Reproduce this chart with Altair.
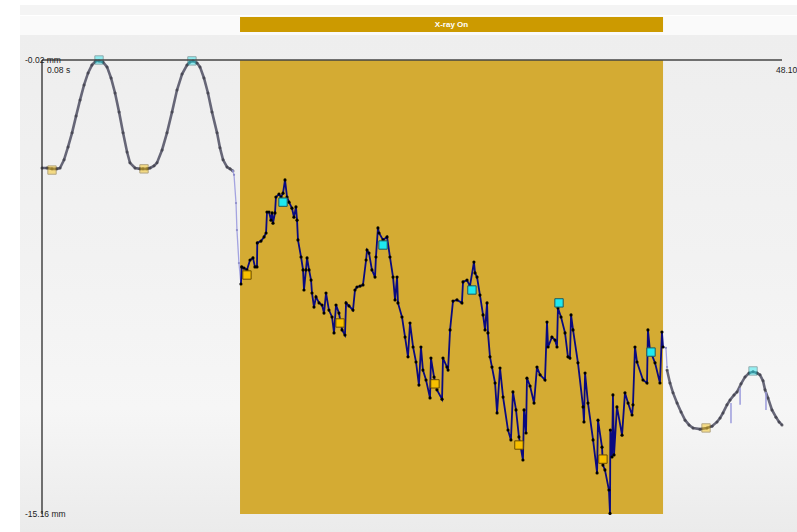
import altair as alt
import pandas as pd

# Axis extents (seconds, millimetres)
T_START, T_END = 0.08, 48.10
MM_TOP, MM_BOTTOM = -0.02, -15.16

# Beam-on window
XRAY_ON, XRAY_OFF = 12.93, 40.38
XRAY_LABEL = "X-ray On"

# Breathing trace before the beam is switched on
pre_t = [0.08, 0.40, 0.73, 1.05, 1.25, 1.51, 1.77, 2.03, 2.29, 2.55, 2.81, 3.07, 3.32, 3.58,
         3.78, 4.04, 4.30, 4.56, 4.82, 5.08, 5.34, 5.60, 5.79, 6.12, 6.44, 6.63, 6.89, 7.09,
         7.35, 7.54, 7.87, 8.19, 8.52, 8.84, 9.17, 9.49, 9.68, 9.88, 10.14, 10.33, 10.59,
         10.85, 11.11, 11.44, 11.63, 11.83, 12.09, 12.28, 12.47]
pre_mm = [-3.62, -3.62, -3.65, -3.65, -3.62, -3.35, -2.92, -2.45, -1.89, -1.35, -0.85, -0.45,
          -0.19, -0.05, -0.05, -0.09, -0.25, -0.62, -1.12, -1.75, -2.45, -3.09, -3.45, -3.62,
          -3.65, -3.65, -3.65, -3.62, -3.55, -3.45, -3.02, -2.45, -1.75, -1.02, -0.49, -0.19,
          -0.09, -0.05, -0.12, -0.25, -0.62, -1.12, -1.75, -2.45, -2.95, -3.35, -3.59, -3.65,
          -3.72]

# Transition into the beam-on period
gap_in_t = [12.47, 12.54, 12.67, 12.73, 12.86, 12.99]
gap_in_mm = [-3.72, -3.85, -4.79, -5.69, -6.79, -7.49]

# Trace during the beam-on period
xray_t = [12.99, 13.04, 13.19, 13.38, 13.58, 13.77, 13.90, 14.03, 14.05, 14.29, 14.49, 14.62,
          14.68, 14.81, 14.94, 15.01, 15.07, 15.20, 15.26, 15.46, 15.59, 15.72, 15.85, 15.98,
          16.11, 16.30, 16.43, 16.56, 16.63, 16.69, 16.89, 17.02, 17.08, 17.21, 17.28, 17.41,
          17.54, 17.60, 17.73, 17.86, 18.06, 18.25, 18.38, 18.51, 18.70, 18.90, 19.03, 19.16,
          19.35, 19.55, 19.74, 19.81, 20.00, 20.26, 20.39, 20.52, 20.72, 20.91, 21.11, 21.17,
          21.30, 21.49, 21.69, 21.75, 21.88, 21.95, 22.21, 22.47, 22.66, 22.86, 22.99, 23.12,
          23.18, 23.44, 23.64, 23.83, 23.96, 24.16, 24.35, 24.54, 24.67, 24.80, 25.00, 25.26,
          25.32, 25.52, 25.71, 26.04, 26.10, 26.36, 26.43, 26.56, 26.75, 27.01, 27.33, 27.40,
          27.66, 27.85, 28.11, 28.18, 28.31, 28.50, 28.70, 28.83, 28.96, 29.02, 29.15, 29.28,
          29.48, 29.61, 29.80, 30.00, 30.32, 30.51, 30.64, 30.84, 31.03, 31.29, 31.36, 31.49,
          31.55, 31.75, 32.01, 32.20, 32.40, 32.72, 32.85, 32.92, 33.17, 33.37, 33.50, 33.56,
          33.76, 34.02, 34.21, 34.34, 34.41, 34.54, 34.86, 35.19, 35.25, 35.32, 35.51, 35.84,
          36.10, 36.16, 36.42, 36.48, 36.61, 36.87, 36.94, 36.96, 37.07, 37.13, 37.20, 37.39,
          37.72, 37.91, 38.11, 38.37, 38.43, 38.56, 38.69, 39.08, 39.34, 39.40, 39.53, 39.86,
          40.18, 40.31, 40.38]
xray_mm = [-7.49, -6.92, -6.96, -7.02, -6.69, -6.62, -6.92, -6.92, -6.12, -6.06, -5.92, -5.79,
           -5.09, -5.09, -5.36, -5.12, -5.46, -5.12, -4.59, -4.49, -4.59, -4.46, -4.02, -4.59,
           -4.76, -4.96, -5.26, -4.92, -5.36, -6.02, -6.59, -7.02, -7.69, -7.02, -6.62, -7.02,
           -7.36, -7.79, -8.26, -7.92, -8.12, -8.19, -8.46, -7.79, -8.36, -8.59, -9.12, -8.19,
           -8.46, -9.02, -9.19, -8.12, -8.22, -8.36, -7.69, -7.59, -7.56, -7.52, -6.69, -6.36,
           -6.46, -7.02, -7.26, -6.59, -5.62, -5.79, -6.02, -5.92, -6.59, -7.26, -8.02, -7.26,
           -8.12, -8.59, -9.26, -9.92, -8.79, -9.59, -10.09, -10.86, -9.59, -10.36, -10.69, -11.29,
           -9.96, -10.59, -11.02, -11.33, -9.96, -10.26, -10.36, -9.02, -8.06, -8.02, -8.12, -7.42,
           -7.36, -7.56, -6.76, -7.12, -7.26, -7.86, -8.52, -9.02, -8.12, -9.12, -9.92, -10.26,
           -10.79, -11.79, -10.29, -11.26, -12.36, -12.69, -11.09, -11.69, -12.59, -13.36, -11.69, -12.46,
           -10.63, -10.89, -11.46, -10.26, -10.52, -10.69, -8.76, -9.59, -9.26, -9.36, -9.59, -8.29,
           -8.59, -9.12, -9.92, -9.96, -8.52, -9.02, -10.12, -11.59, -12.09, -10.46, -11.46, -12.69,
           -13.79, -12.03, -12.93, -13.53, -13.69, -14.36, -15.14, -12.36, -13.26, -11.19, -13.19, -11.59,
           -12.53, -11.12, -11.46, -11.86, -11.52, -9.59, -10.09, -10.69, -10.79, -9.02, -9.69, -10.12,
           -10.79, -9.09, -9.59]

# Transition out of the beam-on period
gap_out_t = [40.38, 40.57, 40.64]
gap_out_mm = [-9.59, -9.62, -10.26]

# Breathing trace after the beam is switched off
post_t = [40.64, 40.83, 41.03, 41.29, 41.55, 41.81, 42.07, 42.33, 42.78, 43.23, 43.56, 43.88,
          44.08, 44.27, 44.53, 44.73, 44.99, 45.18, 45.44, 45.70, 45.96, 46.22, 46.48, 46.67,
          46.87, 47.00, 47.19, 47.45, 47.71, 47.91, 48.10]
post_mm = [-10.36, -10.79, -11.12, -11.46, -11.76, -12.03, -12.19, -12.29, -12.33, -12.29, -12.23,
           -12.09, -11.96, -11.79, -11.52, -11.36, -11.19, -11.09, -10.82, -10.59, -10.46, -10.42,
           -10.46, -10.52, -10.72, -11.02, -11.29, -11.69, -11.93, -12.09, -12.19]

# Short glitches after beam-off
spike_t = [44.79, 45.38, 47.06]
spike_from = [-11.46, -10.96, -11.09]
spike_to = [-12.13, -11.52, -11.69]

# Detected peaks and troughs
peak_t = [3.78, 9.81, 15.72, 22.21, 27.98, 33.63, 39.60, 46.22]
peak_mm = [-0.02, -0.05, -4.76, -6.19, -7.69, -8.12, -9.76, -10.39]
trough_t = [0.73, 6.70, 13.38, 19.42, 25.58, 31.03, 36.48, 43.17]
trough_mm = [-3.69, -3.65, -7.19, -8.79, -10.82, -12.86, -13.33, -12.29]

W, H = 740, 454
PAD = {"left": 42, "top": 60, "right": 15, "bottom": 18}
FONT = "Liberation Sans"

xs = alt.Scale(domain=[T_START, T_END], nice=False, zero=False)
ys = alt.Scale(domain=[MM_BOTTOM, MM_TOP], nice=False, zero=False)


def series(t, v):
    return pd.DataFrame({"t": t, "v": v, "i": list(range(len(t)))})


def X(field="t"):
    return alt.X(f"{field}:Q", scale=xs, axis=None)


def Y(field="v"):
    return alt.Y(f"{field}:Q", scale=ys, axis=None)


one = pd.DataFrame({"k": [0]})

# Panel backdrop
backdrop = alt.Chart(one).mark_rect(color="#f4f4f4").encode(
    x=alt.value(-22), x2=alt.value(W + 15), y=alt.value(-55), y2=alt.value(-45))
header = alt.Chart(one).mark_rect(color="#fafafa").encode(
    x=alt.value(-22), x2=alt.value(W + 15), y=alt.value(-44), y2=alt.value(-25))
panel = alt.Chart(one).mark_rect(
    color=alt.LinearGradient(
        gradient="linear", x1=0, x2=0, y1=0, y2=1,
        stops=[alt.GradientStop(color="#eeeeee", offset=0),
               alt.GradientStop(color="#f2f2f2", offset=0.45),
               alt.GradientStop(color="#f6f6f6", offset=0.75),
               alt.GradientStop(color="#ebebeb", offset=1)])
).encode(x=alt.value(-22), x2=alt.value(W + 15), y=alt.value(-25), y2=alt.value(H + 18))

window = pd.DataFrame({"t0": [XRAY_ON], "t1": [XRAY_OFF], "v0": [MM_TOP], "v1": [MM_BOTTOM],
                       "mid": [(XRAY_ON + XRAY_OFF) / 2], "label": [XRAY_LABEL]})

beam_area = alt.Chart(window).mark_rect(color="#d4ab33").encode(
    x=X("t0"), x2="t1", y=Y("v0"), y2="v1")
beam_bar = alt.Chart(window).mark_rect(color="#cc9a00").encode(
    x=X("t0"), x2="t1", y=alt.value(-43), y2=alt.value(-28))
beam_text = alt.Chart(window).mark_text(
    color="white", font=FONT, fontSize=8, fontWeight="bold", baseline="middle"
).encode(x=X("mid"), y=alt.value(-35.5), text="label:N")

# Axis lines
frame = pd.DataFrame({"t0": [T_START], "t1": [T_END], "v0": [MM_TOP], "v1": [MM_BOTTOM]})
top_line = alt.Chart(frame).mark_rule(color="#454545", strokeWidth=1.5).encode(
    x=X("t0"), x2="t1", y=Y("v0"))
left_line = alt.Chart(frame).mark_rule(color="#2a2a2a", strokeWidth=1.3).encode(
    x=X("t0"), y=Y("v0"), y2="v1")

y_labels = pd.DataFrame({"v": [MM_TOP, MM_BOTTOM],
                         "label": [f"{MM_TOP:.2f} mm", f"{MM_BOTTOM:.2f} mm"]})
y_text = alt.Chart(y_labels).mark_text(
    align="left", baseline="middle", font=FONT, fontSize=8.5, color="#222222"
).encode(x=alt.value(-17), y=Y(), text="label:N")

t_start_text = alt.Chart(pd.DataFrame({"t": [T_START], "v": [MM_TOP], "label": [f"{T_START:.2f} s"]})
                         ).mark_text(align="left", baseline="middle", font=FONT, fontSize=8.5,
                                     color="#222222", dx=5, dy=10).encode(x=X(), y=Y(), text="label:N")
t_end_text = alt.Chart(pd.DataFrame({"t": [T_END], "v": [MM_TOP], "label": [f"{T_END:.2f}"]})
                       ).mark_text(align="left", baseline="middle", font=FONT, fontSize=8.5,
                                   color="#222222", dx=-6, dy=10).encode(x=X(), y=Y(), text="label:N")


def trace(t, v, color, width, dot_color, dot_size, opacity=1.0):
    df = series(t, v)
    line = alt.Chart(df).mark_line(color=color, strokeWidth=width, opacity=opacity).encode(
        x=X(), y=Y(), order="i:Q")
    dots = alt.Chart(df).mark_circle(color=dot_color, size=dot_size, opacity=opacity).encode(
        x=X(), y=Y())
    return [line, dots]


layers = [backdrop, header, panel, beam_area, beam_bar, beam_text]
layers += trace(pre_t, pre_mm, "#4e4e62", 2.6, "#44444f", 9, 0.85)
layers += trace(gap_in_t, gap_in_mm, "#a4a4e0", 1.3, "#8c8cc8", 5)
layers += trace(gap_out_t, gap_out_mm, "#a4a4e0", 1.3, "#8c8cc8", 5)
layers += trace(post_t, post_mm, "#4e4e62", 2.6, "#44444f", 9, 0.85)

spikes = pd.DataFrame({"t": spike_t, "v": spike_from, "v2": spike_to})
layers.append(alt.Chart(spikes).mark_rule(color="#9c9cdc", strokeWidth=1.5).encode(
    x=X(), y=Y(), y2="v2"))

layers += trace(xray_t, xray_mm, "#0a0a80", 1.8, "#000000", 10)

marks = pd.DataFrame({
    "t": peak_t + trough_t,
    "v": peak_mm + trough_mm,
    "kind": ["peak"] * len(peak_t) + ["trough"] * len(trough_t),
})
marks["phase"] = ["in" if XRAY_ON <= t <= XRAY_OFF else "out" for t in marks["t"]]
layers.append(alt.Chart(marks).mark_square(size=70, filled=True, strokeWidth=1).encode(
    x=X(), y=Y(),
    color=alt.Color("kind:N", scale=alt.Scale(domain=["peak", "trough"],
                                              range=["#1ee8f0", "#f7bf00"]), legend=None),
    stroke=alt.Stroke("kind:N", scale=alt.Scale(domain=["peak", "trough"],
                                                range=["#20585c", "#6a4c00"]), legend=None),
    opacity=alt.Opacity("phase:N", scale=alt.Scale(domain=["in", "out"], range=[1.0, 0.45]),
                        legend=None),
))

layers += [top_line, left_line, y_text, t_start_text, t_end_text]

chart = alt.layer(*layers).properties(
    width=W, height=H, padding=PAD,
    autosize=alt.AutoSizeParams(type="none"),
    background="#ffffff",
).configure_view(stroke=None)

chart.save("out.html", embed_options={"renderer": "svg", "actions": False})
